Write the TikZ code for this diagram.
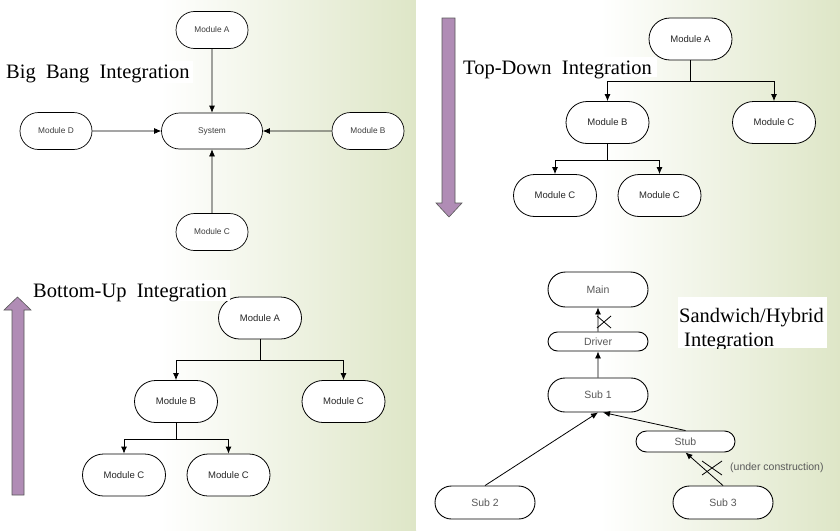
\documentclass[tikz,border=0pt]{standalone}
\usepackage{fontspec}
\setmainfont{Liberation Serif}
\setsansfont{Liberation Sans}
\usetikzlibrary{arrows.meta,shapes.misc}

\definecolor{fondo}{RGB}{222,230,199}
\definecolor{lila}{RGB}{176,140,181}
\definecolor{gristexto}{RGB}{60,60,60}
\newcommand{\fuentetitulo}{\fontsize{20.5}{25}\selectfont\spaceskip=0.5em\relax}

\tikzset{
	modulo/.style={shape=rounded rectangle, draw=black, fill=white, line width=0.8pt, inner sep=0pt, minimum width=83pt, minimum height=42pt, font=\sffamily\fontsize{9.5}{11}\selectfont, text=black!85},
	bbmodulo/.style={modulo, minimum width=72pt, minimum height=37pt, line width=0.7pt, font=\sffamily\fontsize{8.3}{10}\selectfont, text=gristexto},
	swmodulo/.style={modulo, minimum width=100pt, minimum height=34pt, line width=0.9pt, font=\sffamily\fontsize{10.5}{12}\selectfont, text=black!65},
	flecha/.style={line width=0.8pt, -{Latex[length=7pt,width=6pt]}},
	titulo/.style={anchor=base west, inner sep=0pt, font=\fuentetitulo},
	bloque/.style={draw=black!65, fill=lila, line width=0.6pt},
}

\begin{document}
\begin{tikzpicture}[x=1pt, y=-1pt]
		\useasboundingbox (0,0) rectangle (840,530);

		% Fondo
		\fill[white] (0,0) rectangle (840,530);
		\shade[left color=white, right color=fondo] (160,0) rectangle (416,530);
		\shade[left color=white, right color=fondo] (600,0) rectangle (840,530);

		% Big Bang
		\node[bbmodulo] (bbA) at (212,30) {Module A};
		\node[bbmodulo, minimum width=101pt, minimum height=36pt] (bbSys) at (212,131) {System};
		\node[bbmodulo] (bbD) at (56,131) {Module D};
		\node[bbmodulo] (bbB) at (368,131) {Module B};
		\node[bbmodulo] (bbC) at (212,232) {Module C};
		\draw[flecha, line width=0.7pt] (bbA) -- (bbSys);
		\draw[flecha, line width=0.7pt] (bbD) -- (bbSys);
		\draw[flecha, line width=0.7pt] (bbB) -- (bbSys);
		\draw[flecha, line width=0.7pt] (bbC) -- (bbSys);
		\fill[white] (5,61) rectangle (193,83);
		\node[titulo] (tBig) at (6,78) {Big Bang Integration};

		% Top-Down
		\filldraw[bloque] (442,18) -- (455,18) -- (455,203) -- (462,203) -- (449,217) -- (436,203) -- (442,203) -- cycle;
		\fill[white] (461,57) rectangle (657,77);
		\node[titulo] (tTop) at (463,74) {Top-Down Integration};
		\node[modulo] (tdA) at (690.5,39) {Module A};
		\node[modulo] (tdB) at (607.5,122.5) {Module B};
		\node[modulo] (tdC) at (774,122.5) {Module C};
		\node[modulo] (tdC1) at (555,195.5) {Module C};
		\node[modulo] (tdC2) at (659.5,195.5) {Module C};
		\draw[flecha] (tdA.south) -- ++(0,21) -| (tdB.north);
		\draw[flecha] (tdA.south) -- ++(0,21) -| (tdC.north);
		\draw[flecha] (tdB.south) -- ++(0,16) -| (tdC1.north);
		\draw[flecha] (tdB.south) -- ++(0,16) -| (tdC2.north);

		% Bottom-Up
		\filldraw[bloque] (12,495) -- (24,495) -- (24,310) -- (31,310) -- (17.5,297) -- (4,310) -- (12,310) -- cycle;
		\node[modulo] (buA) at (260,318) {Module A};
		\node[modulo] (buB) at (176,401.5) {Module B};
		\node[modulo] (buC) at (343.5,401.5) {Module C};
		\node[modulo] (buC1) at (124,475) {Module C};
		\node[modulo] (buC2) at (228.5,475) {Module C};
		\draw[flecha] (buA.south) -- ++(0,21) -| (buB.north);
		\draw[flecha] (buA.south) -- ++(0,21) -| (buC.north);
		\draw[flecha] (buB.south) -- ++(0,16) -| (buC1.north);
		\draw[flecha] (buB.south) -- ++(0,16) -| (buC2.north);
		\fill[white] (32,280) rectangle (230,301);
		\node[titulo] (tBot) at (33,297) {Bottom-Up Integration};

		% Sandwich / Hybrid
		\node[swmodulo, minimum height=35pt] (swMain) at (598,289.5) {Main};
		\node[swmodulo, minimum height=19pt] (swDriver) at (598,341.5) {Driver};
		\node[swmodulo] (swSub1) at (598,395) {Sub 1};
		\node[swmodulo, minimum width=99pt, minimum height=21pt] (swStub) at (685.5,441.5) {Stub};
		\node[swmodulo, minimum height=33pt] (swSub2) at (485,502.5) {Sub 2};
		\node[swmodulo, minimum height=33pt] (swSub3) at (723,502.5) {Sub 3};
		\draw[flecha] (swDriver) -- (swMain);
		\draw[flecha] (swSub1) -- (swDriver);
		\draw[flecha] (swSub2.north) -- (swSub1.south);
		\draw[flecha] (swStub.north) -- ([xshift=5pt]swSub1.south);
		\draw[flecha] (swSub3.north) -- (swStub.south);
		\node[anchor=west, inner sep=0pt, font=\sffamily\fontsize{10.5}{12}\selectfont, text=black!65] (swNota) at (730,468) {(under construction)};

		% Cruces
		\draw[line width=0.8pt] (597,316) -- (611,328) (597,328) -- (611,316);
		\draw[line width=0.8pt] (702,461) -- (722,475) (702,475) -- (722,461);

		\fill[white] (678,297) rectangle (827,348);
		\begin{scope}
			\clip (678,297) rectangle (827,348);
			\node[titulo] (tSand) at (679,322) {Sandwich/Hybrid};
			\node[titulo] (tSand2) at (684,346) {Integration};
		\end{scope}

		% Separacion
		\fill[white] (416,0) rectangle (419,530);
	\end{tikzpicture}
\end{document}
